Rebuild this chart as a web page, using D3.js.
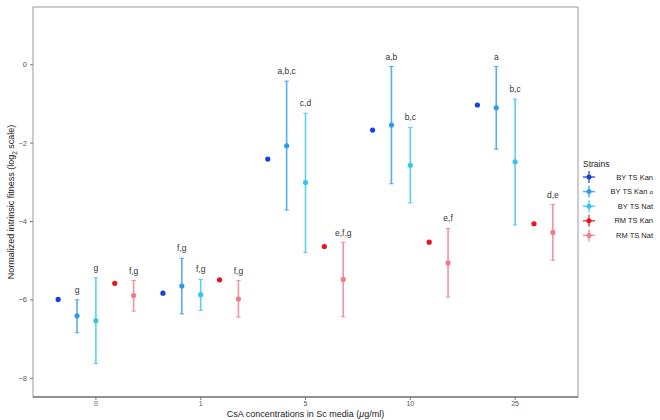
<!DOCTYPE html>
<html><head><meta charset="utf-8">
<script src="https://cdn.jsdelivr.net/npm/d3@7"></script>
<style>body{margin:0;background:#fff;font-family:"Liberation Sans",Arial,sans-serif}</style>
</head><body><svg id="c" width="660" height="420"></svg>
<script>
const concentrations = ["0","1","5","10","25"];
const strains = ["BY TS Kan","BY TS Kan α","BY TS Nat","RM TS Kan","RM TS Nat"];
const colors = ["#1a3fe0","#2d9be8","#33c5ec","#e8141c","#f07b8a"];
// mean per strain (rows) per concentration (cols)
const means = [
  [-6.00,-5.84,-2.42,-1.68,-1.04],
  [-6.42,-5.66,-2.08,-1.55,-1.11],
  [-6.54,-5.88,-3.02,-2.58,-2.49],
  [-5.59,-5.50,-4.65,-4.54,-4.07],
  [-5.90,-5.99,-5.49,-5.07,-4.29]
];
const lows = [
  [null,null,null,null,null],
  [-6.85,-6.37,-3.72,-3.05,-2.17],
  [-7.64,-6.28,-4.80,-3.54,-4.10],
  [null,null,null,null,null],
  [-6.30,-6.45,-6.44,-5.94,-5.00]
];
const highs = [
  [null,null,null,null,null],
  [-6.01,-4.95,-0.43,-0.06,-0.06],
  [-5.45,-5.49,-1.25,-1.61,-0.89],
  [null,null,null,null,null],
  [-5.52,-5.52,-4.55,-4.19,-3.58]
];
const letters = [
  [null,null,null,null,null],
  ["g","f,g","a,b,c","a,b","a"],
  ["g","f,g","c,d","b,c","b,c"],
  [null,null,null,null,null],
  ["f,g","f,g","e,f,g","e,f","d,e"]
];
const yTicks = [0,-2,-4,-6,-8];

const svg = d3.select("#c");
const L=33, R=578, T=7, B=397;
const x = d3.scaleBand().domain(concentrations).range([L,R]).paddingOuter(0.1).paddingInner(0);
const bw = x.bandwidth();
const inner = d3.scaleBand().domain(strains).range([0, bw*0.9]);
const y = d3.scaleLinear().domain([-8.49,1.46]).range([B,T]);

// panel border
svg.append("rect").attr("x",L).attr("y",T).attr("width",R-L).attr("height",B-T)
  .attr("fill","none").attr("stroke","#9a9a9a").attr("stroke-width",1);
svg.append("line").attr("x1",L).attr("x2",R).attr("y1",B).attr("y2",B).attr("stroke","#555").attr("stroke-width",1);

// axes
const gx = svg.append("g").attr("transform",`translate(0,${B})`)
  .call(d3.axisBottom(x).tickSize(3).tickPadding(1));
gx.select(".domain").remove();
gx.selectAll("line").attr("stroke","#777");
gx.selectAll("text").attr("fill","#555").attr("font-size",7).attr("font-family","Liberation Sans, Arial, sans-serif");
const gy = svg.append("g").attr("transform",`translate(${L},0)`)
  .call(d3.axisLeft(y).tickValues(yTicks).tickSize(3).tickPadding(3).tickFormat(d=>d3.format("")(d).replace("-","−")));
gy.select(".domain").remove();
gy.selectAll("line").attr("stroke","#777");
gy.selectAll("text").attr("fill","#555").attr("font-size",7.5).attr("font-family","Liberation Sans, Arial, sans-serif");

// axis titles
const xt = svg.append("text").attr("x",(L+R)/2).attr("y",417).attr("text-anchor","middle")
  .attr("font-size",9).attr("fill","#222");
xt.append("tspan").text("CsA concentrations in Sc media (");
xt.append("tspan").attr("font-style","italic").text("μ");
xt.append("tspan").text("g/ml)");
const yt = svg.append("text").attr("transform",`translate(14,${(T+B)/2}) rotate(-90)`).attr("text-anchor","middle")
  .attr("font-size",9).attr("fill","#222");
yt.append("tspan").text("Normalized intrinsic fitness (log");
yt.append("tspan").attr("font-size",6.5).attr("dy",2.5).text("2");
yt.append("tspan").attr("dy",-2.5).text(" scale)");

// marks
strains.forEach((s,i)=>{
  concentrations.forEach((c,j)=>{
    const cx = x(c) + bw*0.05 + inner(s) + inner.bandwidth()/2;
    const g = svg.append("g");
    if (lows[i][j]!==null){
      const y1=y(highs[i][j]), y2=y(lows[i][j]);
      g.append("line").attr("x1",cx).attr("x2",cx).attr("y1",y1).attr("y2",y2)
        .attr("stroke",colors[i]).attr("stroke-width",1.6).attr("opacity",0.8);
      [y1,y2].forEach(yy=>g.append("line").attr("x1",cx-2.3).attr("x2",cx+2.3).attr("y1",yy).attr("y2",yy)
        .attr("stroke",colors[i]).attr("stroke-width",1).attr("opacity",0.8));
      if (letters[i][j]) svg.append("text").attr("x",cx).attr("y",y1-7).attr("text-anchor","middle")
        .attr("font-size",8.5).attr("fill","#333").text(letters[i][j]);
    }
    g.append("circle").attr("cx",cx).attr("cy",y(means[i][j])).attr("r",2.6).attr("fill",colors[i]);
  });
});

// legend
svg.append("text").attr("x",583).attr("y",167).attr("font-size",8.5).attr("fill","#222").text("Strains");
strains.forEach((s,i)=>{
  const ly = 177 + i*14.6;
  const lx = 589;
  svg.append("line").attr("x1",lx).attr("x2",lx).attr("y1",ly-6).attr("y2",ly+6).attr("stroke",colors[i]).attr("stroke-width",1.4).attr("opacity",0.85);
  svg.append("line").attr("x1",lx-6).attr("x2",lx+6).attr("y1",ly).attr("y2",ly).attr("stroke",colors[i]).attr("stroke-width",1.4).attr("opacity",0.85);
  svg.append("circle").attr("cx",lx).attr("cy",ly).attr("r",2.5).attr("fill",colors[i]);
  const t = svg.append("text").attr("x",653).attr("y",ly+2.5).attr("text-anchor","end").attr("font-size",7.5).attr("fill","#222");
  if (s.endsWith("α")) { t.append("tspan").text("BY TS Kan "); t.append("tspan").attr("font-size",6).text("α"); }
  else t.text(s);
});
</script></body></html>
